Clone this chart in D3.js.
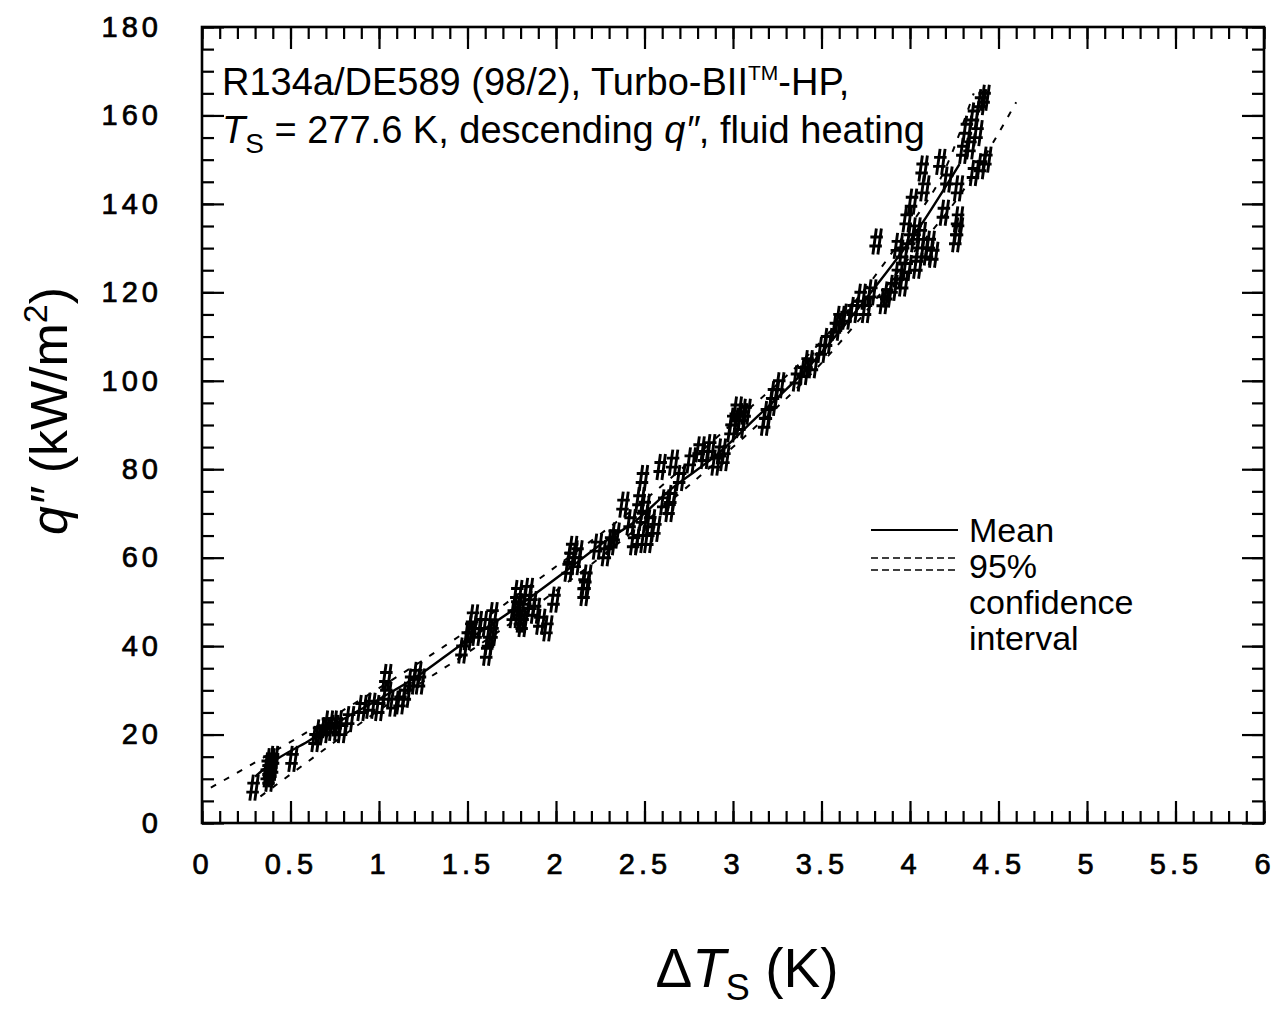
<!DOCTYPE html>
<meta charset="utf-8">
<script src="https://d3js.org/d3.v7.min.js"></script>
<style>
body { margin: 0; background: #fff; }
svg text { font-family: "Liberation Sans", Arial, sans-serif; fill: #000; }
.tick text { font-size: 29px; letter-spacing: 4px; stroke: #000; stroke-width: 0.7px; }
.domain { display: none; }
.tick line { stroke: #000; stroke-width: 2.2; }
.mark { fill: none; stroke: #000; stroke-width: 2.9; }
.mean { fill: none; stroke: #000; stroke-width: 2.4; }
.band { fill: none; stroke: #000; stroke-width: 2; stroke-dasharray: 6,9; }
</style>
<body>
<div id="chart"></div>
<script>

// measured points: wall superheat (K) and heat flux (kW/m2)
var dT = [0.29, 0.37, 0.37, 0.38, 0.38, 0.38, 0.39, 0.39, 0.40, 0.40, 0.51,
  0.64, 0.66, 0.69, 0.71, 0.74, 0.76, 0.79, 0.83,
  0.90, 0.95, 1.00, 1.04, 1.04, 1.08, 1.12, 1.15, 1.18, 1.21, 1.23,
  1.47, 1.50, 1.52, 1.53, 1.55, 1.58, 1.61, 1.62, 1.64, 1.64,
  1.76, 1.78, 1.78, 1.80, 1.81, 1.83, 1.84, 1.86, 1.88, 1.91, 1.95, 1.99,
  2.07, 2.08, 2.09, 2.11, 2.12, 2.16, 2.16, 2.17, 2.23, 2.28, 2.31, 2.33,
  2.38, 2.42, 2.44, 2.47, 2.47, 2.49, 2.49, 2.50, 2.52, 2.53, 2.56,
  2.59, 2.61, 2.64, 2.65, 2.66, 2.70,
  2.76, 2.81, 2.84, 2.87, 2.90, 2.93, 2.95,
  2.99, 3.00, 3.02, 3.04, 3.05, 3.07,
  3.18, 3.19, 3.22, 3.23, 3.26,
  3.36, 3.40, 3.42, 3.45, 3.50,
  3.53, 3.58, 3.60, 3.64, 3.68, 3.72, 3.75, 3.78, 3.81,
  3.85, 3.87, 3.90, 3.93, 3.93, 3.96, 3.96, 3.98, 3.98, 4.00, 4.01,
  4.03, 4.04, 4.05, 4.06, 4.07, 4.08, 4.10, 4.11, 4.13, 4.17, 4.19, 4.21,
  4.27, 4.26, 4.27, 4.27, 4.30, 4.32, 4.34, 4.36, 4.38, 4.40, 4.42, 4.36, 4.40, 4.43];
var qFlux = [8, 11, 13, 12, 14, 10, 11.5, 13, 12.5, 14.5, 14.5,
  19, 20.5, 21, 22.5, 21.5, 22.5, 21, 23.5,
  26, 26.5, 26, 33, 29, 27, 27.5, 29, 32, 33.5, 32,
  39, 42, 44, 46.5, 43, 45, 38.5, 41, 47, 43,
  47, 52, 49, 46, 45, 50.5, 52.5, 49.5, 48, 45.5, 44, 50.5,
  57.5, 60, 62, 59, 61, 54, 52, 55.5, 62.5, 61, 63.5, 65,
  72, 68, 63.5, 73, 64, 78, 69, 71.5, 64, 68, 66.5,
  80.5, 72.5, 71, 73.5, 81.5, 78,
  82, 84.5, 83, 85, 81.5, 84, 82.5,
  89, 91, 93.5, 90, 92, 93,
  90.5, 92.5, 95, 97, 99,
  100.5, 102, 104, 103.5, 107,
  109, 112, 114, 114.5, 116, 119, 116, 120, 131.5,
  118, 119.5, 121, 124, 130.5, 122, 129, 125.5, 136.5, 132, 140.5,
  134, 126, 129, 133, 148, 143.5, 129, 131, 128.5, 149.5, 138, 145.5,
  143.5, 132, 134, 136.5, 152, 157, 153, 160, 156, 163, 164, 147, 148.5, 150];

// mean fit and 95% confidence interval
var meanDT = [0.30, 0.40, 0.60, 0.80, 1.00, 1.21, 1.47, 1.75, 2.04, 2.27, 2.44, 2.65, 2.90, 3.14, 3.40, 3.74, 4.05, 4.28];
var meanQ  = [10.5, 13.8, 18.5, 23.5, 28, 33, 40.5, 48, 56.5, 63.5, 68, 75.5, 83, 92, 102, 118, 134.5, 149];
var upperDT = [0.05, 0.27, 0.57, 1.0, 1.5, 2.0, 2.5, 3.0, 3.5, 4.0, 4.2, 4.36];
var upperQ  = [8, 13, 20, 30.5, 43.5, 58, 73, 90.5, 109, 135, 148, 165];
var lowerDT = [0.33, 0.5, 1.0, 1.5, 2.0, 2.5, 3.0, 3.5, 4.0, 4.3, 4.6];
var lowerQ  = [6, 11, 25.5, 38.5, 52.5, 68, 85, 104, 128, 143, 163];

var xTicks = [0, 0.5, 1, 1.5, 2, 2.5, 3, 3.5, 4, 4.5, 5, 5.5, 6];
var yTicks = [0, 20, 40, 60, 80, 100, 120, 140, 160, 180];
var legendLabels = ["Mean", "95%", "confidence", "interval"];

var margin = {top: 27, right: 23, bottom: 188, left: 202},
    width = 1287 - margin.left - margin.right,
    height = 1011 - margin.top - margin.bottom;

var x = d3.scaleLinear().domain([0, 6]).range([0, width]);
var y = d3.scaleLinear().domain([0, 180]).range([height, 0]);

var svg = d3.select("#chart").append("svg")
    .attr("width", 1287)
    .attr("height", 1011)
  .append("g")
    .attr("transform", "translate(" + margin.left + "," + margin.top + ")");

// minor ticks on all four sides
var xMinor = d3.range(0, 61).map(function(i) { return i / 10; });
var yMinor = d3.range(0, 37).map(function(i) { return i * 5; });

svg.append("g").attr("transform", "translate(0," + height + ")")
    .call(d3.axisBottom(x).tickValues(xMinor).tickSize(-12).tickFormat(""));
svg.append("g")
    .call(d3.axisTop(x).tickValues(xMinor).tickSize(-12).tickFormat(""));
svg.append("g")
    .call(d3.axisLeft(y).tickValues(yMinor).tickSize(-12).tickFormat(""));
svg.append("g").attr("transform", "translate(" + width + ",0)")
    .call(d3.axisRight(y).tickValues(yMinor).tickSize(-12).tickFormat(""));

// major ticks with labels
svg.append("g").attr("transform", "translate(0," + height + ")")
    .call(d3.axisBottom(x).tickValues(xTicks).tickSize(-22).tickPadding(30)
      .tickFormat(function(d) { return String(d); }));
svg.append("g")
    .call(d3.axisTop(x).tickValues(xTicks).tickSize(-22).tickFormat(""));
svg.append("g")
    .call(d3.axisLeft(y).tickValues(yTicks).tickSize(-22).tickPadding(40)
      .tickFormat(function(d) { return String(d); }));
svg.append("g").attr("transform", "translate(" + width + ",0)")
    .call(d3.axisRight(y).tickValues(yTicks).tickSize(-22).tickFormat(""));

svg.selectAll(".tick text").attr("font-family", null);

// frame
svg.append("rect")
    .attr("width", width)
    .attr("height", height)
    .attr("fill", "none")
    .attr("stroke", "#000")
    .attr("stroke-width", 2.6);

// curves
var line = d3.line()
    .x(function(d) { return x(d[0]); })
    .y(function(d) { return y(d[1]); })
    .curve(d3.curveMonotoneX);

svg.append("path").attr("class", "band")
    .attr("d", line(d3.zip(upperDT, upperQ)));
svg.append("path").attr("class", "band")
    .attr("d", line(d3.zip(lowerDT, lowerQ)));
svg.append("path").attr("class", "mean")
    .attr("d", line(d3.zip(meanDT, meanQ)));

// '#' markers
var hashPath = "M0,-13L-3.5,13M5,-13L1.5,13M-6,-4.5L6.5,-4.5M-7,4.5L5.5,4.5";
svg.selectAll(".mark")
    .data(d3.zip(dT, qFlux))
  .enter().append("path")
    .attr("class", "mark")
    .attr("d", hashPath)
    .attr("transform", function(d) { return "translate(" + x(d[0]) + "," + y(d[1]) + ")"; });

// annotation
var note = svg.append("g").style("font-size", "38px");
var l1 = note.append("text").attr("x", 20).attr("y", 68);
l1.append("tspan").text("R134a/DE589 (98/2), Turbo-BII");
l1.append("tspan").attr("dy", -15).style("font-size", "21px").text("TM");
l1.append("tspan").attr("dy", 15).text("-HP,");

var l2 = note.append("text").attr("x", 20).attr("y", 116);
l2.append("tspan").style("font-style", "italic").text("T");
l2.append("tspan").attr("dy", 10).style("font-size", "28px").text("S");
l2.append("tspan").attr("dy", -10).text(" = 277.6 K, descending ");
l2.append("tspan").style("font-style", "italic").text("q\u2033");
l2.append("tspan").text(", fluid heating");

// legend
var legend = svg.append("g").style("font-size", "34px");
legend.append("line")
    .attr("x1", 669).attr("x2", 756).attr("y1", 503).attr("y2", 503)
    .attr("stroke", "#000").attr("stroke-width", 2);
[531, 543].forEach(function(yy) {
  legend.append("line")
      .attr("x1", 669).attr("x2", 756).attr("y1", yy).attr("y2", yy)
      .attr("stroke", "#000").attr("stroke-width", 1.5).attr("stroke-dasharray", "7,4");
});
legend.selectAll(".lab")
    .data(legendLabels)
  .enter().append("text")
    .attr("x", 767)
    .attr("y", function(d, i) { return 515 + i * 36; })
    .text(function(d) { return d; });

// axis titles
var xt = svg.append("text")
    .attr("x", 545).attr("y", 960)
    .attr("text-anchor", "middle")
    .style("font-size", "55px");
xt.append("tspan").text("\u0394");
xt.append("tspan").style("font-style", "italic").text("T");
xt.append("tspan").attr("dy", 13).style("font-size", "36px").text("S");
xt.append("tspan").attr("dy", -13).text(" (K)");

var yt = svg.append("text")
    .attr("transform", "translate(-135,384) rotate(-90)")
    .attr("text-anchor", "middle")
    .style("font-size", "52px");
yt.append("tspan").style("font-style", "italic").text("q\u2033");
yt.append("tspan").text(" (kW/m");
yt.append("tspan").attr("dy", -20).style("font-size", "34px").text("2");
yt.append("tspan").attr("dy", 20).text(")");

</script>
</body>
